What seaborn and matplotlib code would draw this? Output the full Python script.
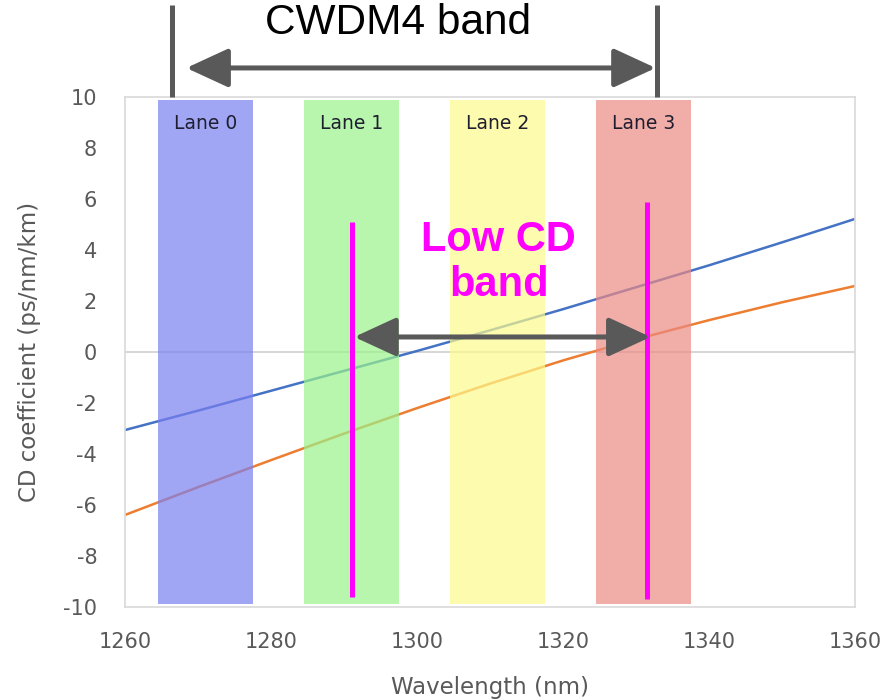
import matplotlib
matplotlib.use("Agg")
import numpy as np
import pandas as pd
import matplotlib.pyplot as plt
import seaborn as sns

# dispersion curves (nm, ps/nm/km)
wavelength = [1260, 1270, 1280, 1290, 1300, 1310, 1320, 1330, 1340, 1350, 1360]
cd_blue = [-3.06, -2.3, -1.52, -0.74, 0.04, 0.85, 1.68, 2.54, 3.4, 4.3, 5.22]
cd_orange = [-6.39, -5.3, -4.24, -3.2, -2.2, -1.24, -0.33, 0.5, 1.25, 1.95, 2.59]

# CWDM4 lanes
lane_names = ["Lane 0", "Lane 1", "Lane 2", "Lane 3"]
lane_start = [1264.5, 1284.5, 1304.5, 1324.5]
lane_end = [1277.5, 1297.5, 1317.5, 1337.5]
lane_colors = ["#7a80f0", "#9af28a", "#fdfb8c", "#ec8a84"]

# annotations
cwdm4_edges = [1266.4, 1332.9]
low_cd_edges = [1291.1, 1331.5]
low_cd_bar_top = [5.1, 5.9]
low_cd_bar_bottom = [-9.6, -9.7]

GRAY = "#595959"
MAGENTA = "#ff00ff"

sns.set_style("white")
plt.rcParams["font.family"] = ["DejaVu Sans"]
plt.rcParams["axes.unicode_minus"] = False

fig = plt.figure(figsize=(8.89, 6.99), dpi=100)
ax = fig.add_axes([0.1406, 0.1316, 0.8212, 0.7296])

df = pd.DataFrame({
    "wavelength": wavelength * 2,
    "cd": cd_blue + cd_orange,
    "fiber": ["a"] * len(wavelength) + ["b"] * len(wavelength),
})
sns.lineplot(data=df, x="wavelength", y="cd", hue="fiber",
             palette=["#4472c4", "#ed7d31"], linewidth=1.8, legend=False,
             ax=ax, zorder=2)

for name, x0, x1, c in zip(lane_names, lane_start, lane_end, lane_colors):
    ax.fill_between([x0, x1], -9.9, 9.9, color=c, alpha=0.7, lw=0, zorder=3)
    ax.text((x0 + x1) / 2, 8.95, name, ha="center", va="center",
            fontsize=13.5, color="#1e1e30", zorder=5)

ax.axhline(0, color="#d0d0d0", lw=1.2, zorder=1)

ax.set_xlim(1260, 1360)
ax.set_ylim(-10, 10)
ax.set_xticks(np.arange(1260, 1361, 20))
ax.set_yticks(np.arange(-10, 11, 2))
ax.tick_params(axis="both", direction="in", length=6, color="#bfbfbf",
               labelcolor=GRAY, labelsize=15)
ax.tick_params(axis="y", pad=20)
ax.tick_params(axis="x", pad=18)
for s in ax.spines.values():
    s.set_color("#d9d9d9")
    s.set_linewidth(1.2)

ax.set_xlabel("Wavelength (nm)", fontsize=16.5, color=GRAY, labelpad=17)
ax.set_ylabel("CD coefficient (ps/nm/km)", fontsize=16.5, color=GRAY, labelpad=16)

# CWDM4 band marker above the plot
for x in cwdm4_edges:
    ax.plot([x, x], [10.0, 13.6], color=GRAY, lw=3.6, clip_on=False,
            solid_capstyle="butt", zorder=6)
ax.annotate("", xy=(cwdm4_edges[1] - 0.2, 11.14), xytext=(cwdm4_edges[0] + 2.0, 11.14),
            arrowprops=dict(arrowstyle="<|-|>,head_length=1.3,head_width=0.6",
                            color=GRAY, lw=3.6, mutation_scale=20,
                            shrinkA=0, shrinkB=0),
            annotation_clip=False, zorder=6)
ax.text(1297.4, 12.9, "CWDM4 band", ha="center", va="center", fontsize=30.5,
        family="Liberation Sans", color="black", clip_on=False)

# Low CD band marker
for x, y0, y1 in zip(low_cd_edges, low_cd_bar_bottom, low_cd_bar_top):
    ax.plot([x, x], [y0, y1], color=MAGENTA, lw=3.6, solid_capstyle="butt", zorder=7)
ax.annotate("", xy=(low_cd_edges[1] + 0.5, 0.59), xytext=(low_cd_edges[0] + 0.3, 0.59),
            arrowprops=dict(arrowstyle="<|-|>,head_length=1.3,head_width=0.6",
                            color=GRAY, lw=3.6, mutation_scale=20,
                            shrinkA=0, shrinkB=0),
            zorder=8)
ax.text(1311.2, 3.5, "Low CD\nband", ha="center", va="center", fontsize=30,
        family="Liberation Sans", fontweight="bold", color=MAGENTA,
        linespacing=1.15, zorder=8)

fig.savefig("out.png", dpi=100)
